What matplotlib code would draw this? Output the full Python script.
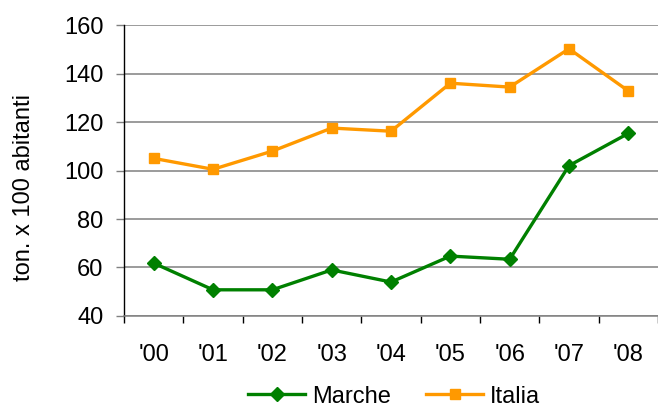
import matplotlib
matplotlib.use("Agg")
import matplotlib.pyplot as plt
import numpy as np

# Annual values, tons per 100 inhabitants
years  = ["'00", "'01", "'02", "'03", "'04", "'05", "'06", "'07", "'08"]
marche = [61.8, 50.8, 50.8, 59.0, 54.0, 64.7, 63.4, 102.0, 115.3]
italia = [105.0, 100.5, 108.0, 117.5, 116.2, 136.0, 134.4, 150.2, 132.8]

GREEN  = "#008000"
ORANGE = "#FF9900"
GRID   = "#808080"
FS     = 17

plt.rcParams["font.family"] = ["Liberation Sans", "DejaVu Sans"]

fig = plt.figure(figsize=(6.58, 4.08), dpi=100)
ax = fig.add_axes([0.1885, 0.2255, 0.8115, 0.7132])

x = np.arange(len(years))
ax.plot(x, marche, color=GREEN, linewidth=2.4, marker="D", markersize=7.5,
        markerfacecolor=GREEN, markeredgecolor=GREEN, label="Marche", zorder=3)
ax.plot(x, italia, color=ORANGE, linewidth=2.4, marker="s", markersize=7.8,
        markerfacecolor=ORANGE, markeredgecolor=ORANGE, label="Italia", zorder=3)

ax.set_xlim(-0.5, len(years) - 0.5)
ax.set_ylim(40, 160)
ax.set_yticks(np.arange(40, 161, 20))
ax.set_xticks(x)
ax.set_xticklabels(years)
ax.set_xticks(np.arange(-0.5, len(years), 1.0), minor=True)

ax.grid(axis="y", color=GRID, linewidth=1.1)
ax.set_axisbelow(True)

for side in ("top", "right"):
    ax.spines[side].set_visible(False)
ax.spines["left"].set_color("black")
ax.spines["left"].set_linewidth(1.0)
ax.spines["bottom"].set_color(GRID)
ax.spines["bottom"].set_linewidth(1.1)

ax.tick_params(axis="y", direction="out", length=5.8, width=1, color=GRID,
               labelsize=FS, pad=9)
ax.tick_params(axis="x", which="major", length=0, labelsize=FS, pad=20)
ax.tick_params(axis="x", which="minor", direction="out", length=5, width=1,
               color="black")

fig.text(24 / 658, 0.54, "ton. x 100 abitanti", rotation=90,
         ha="center", va="center", fontsize=FS)

fig.legend(loc="center", bbox_to_anchor=(0.599, 0.028), ncol=2, frameon=False,
           fontsize=FS, handlelength=2.4, columnspacing=1.5, handletextpad=0.3,
           borderaxespad=0, borderpad=0)

fig.savefig("out.png", dpi=100, facecolor="white")
